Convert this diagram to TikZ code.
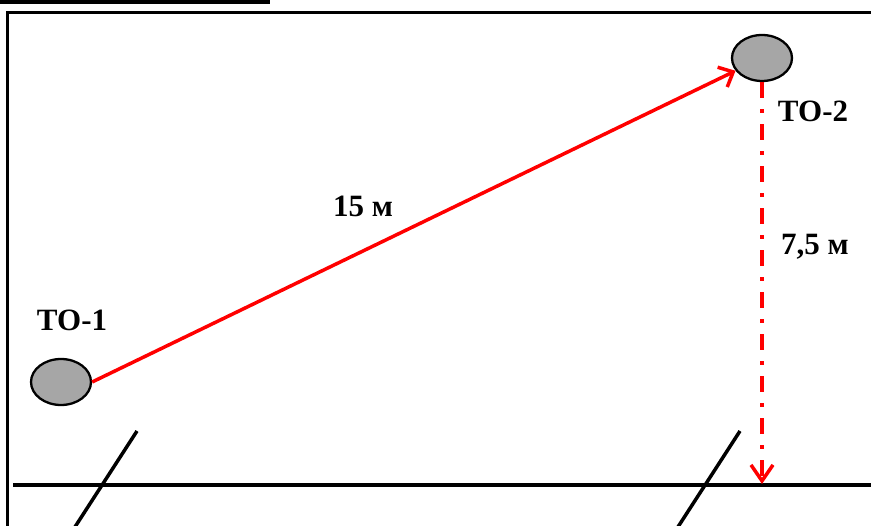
\documentclass[tikz,border=0pt]{standalone}
\usepackage{fontspec}
\setmainfont{Liberation Serif}
\usetikzlibrary{arrows.meta,shapes.geometric}
\definecolor{objgray}{HTML}{A6A6A6}
\tikzset{
  obj/.style={ellipse, draw=black, line width=2.3pt, fill=objgray, minimum width=60pt, minimum height=46pt, inner sep=0pt},
  lbl/.style={font=\fontsize{31}{34}\selectfont\bfseries, inner sep=0pt},
  redline/.style={draw=red, line width=3.5pt, -{Straight Barb[length=12pt,width=22pt,line width=3.5pt]}},
  reddash/.style={draw=red, line width=3.5pt, dash pattern=on 16pt off 11pt on 4pt off 11pt, -{Straight Barb[length=16pt,width=22pt,line width=3.5pt]}},
  blk/.style={draw=black, line width=3.5pt},
  frm/.style={draw=black, line width=3pt}
}
\begin{document}
\begin{tikzpicture}[x=1pt,y=-1pt]
\useasboundingbox (0,0) rectangle (871,526);
% top short line and frame
\coordinate (t1) at (0,2);
\coordinate (t2) at (270,2);
\draw[blk] (t1) -- (t2);
\coordinate (f1) at (7,530);
\coordinate (f2) at (7,13);
\coordinate (f3) at (875,13);
\draw[frm] (f1) -- (f2) -- (f3);
% ground line
\coordinate (g1) at (13,485);
\coordinate (g2) at (875,485);
\draw[blk] (g1) -- (g2);
% slanted lines
\coordinate (s1a) at (137,431);
\coordinate (s1b) at (73,530);
\draw[blk] (s1a) -- (s1b);
\coordinate (s2a) at (740,431);
\coordinate (s2b) at (676,530);
\draw[blk] (s2a) -- (s2b);
% objects
\node[obj] (to1) at (61,382) {};
\node[obj] (to2) at (762,58) {};
% connectors
\draw[redline] (to1.east) -- (to2);
\coordinate (gnd) at (762,484);
\draw[reddash] (to2.south) -- (gnd);
% labels
\node[lbl] (l1) at (72,320) {ТО-1};
\node[lbl] (l2) at (813,111) {ТО-2};
\node[lbl] (l3) at (363,206) {15 м};
\node[lbl] (l4) at (815,247) {7,5 м};
\end{tikzpicture}
\end{document}
